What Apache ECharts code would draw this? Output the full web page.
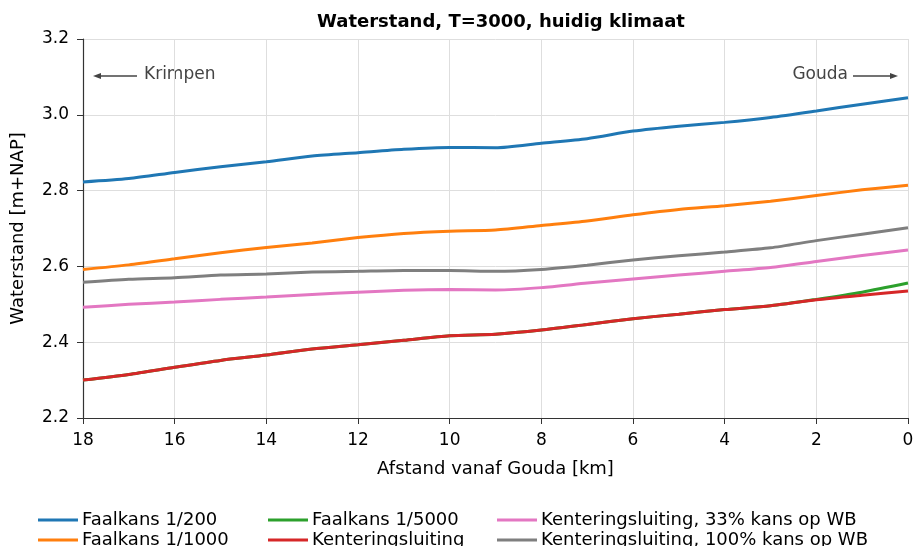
<!DOCTYPE html>
<html><head><meta charset="utf-8">
<script src="https://cdn.jsdelivr.net/npm/echarts@6/dist/echarts.min.js"></script>
<style>html,body{margin:0;padding:0;background:#fff}#c{width:913px;height:546px}</style>
</head><body><div id="c"></div>
<script>
const km = [18,17,16,15,14,13,12,11,10,9,8,7,6,5,4,3,2,1,0];
const faal200  = [2.823,2.832,2.848,2.863,2.876,2.891,2.900,2.909,2.914,2.913,2.925,2.937,2.957,2.970,2.980,2.993,3.010,3.028,3.045];
const faal1000 = [2.592,2.604,2.620,2.636,2.650,2.662,2.676,2.687,2.693,2.696,2.708,2.720,2.736,2.750,2.760,2.772,2.787,2.802,2.814];
const faal5000 = [2.300,2.315,2.334,2.352,2.366,2.382,2.393,2.405,2.417,2.421,2.432,2.447,2.462,2.474,2.486,2.496,2.513,2.532,2.556];
const kenter   = [2.300,2.315,2.334,2.352,2.366,2.382,2.393,2.405,2.417,2.421,2.432,2.447,2.462,2.474,2.486,2.496,2.512,2.524,2.535];
const kenter33 = [2.492,2.500,2.506,2.513,2.519,2.526,2.532,2.537,2.539,2.538,2.544,2.556,2.567,2.577,2.587,2.597,2.613,2.629,2.643];
const kenter100= [2.558,2.566,2.570,2.577,2.580,2.585,2.587,2.589,2.589,2.587,2.592,2.603,2.617,2.628,2.638,2.649,2.668,2.685,2.702];
const names = ['Faalkans 1/200','Faalkans 1/1000','Faalkans 1/5000','Kenteringsluiting','Kenteringsluiting, 33% kans op WB','Kenteringsluiting, 100% kans op WB'];
const colors = ['#1f77b4','#ff7f0e','#2ca02c','#d62728','#e377c2','#7f7f7f'];
const values = [faal200,faal1000,faal5000,kenter,kenter33,kenter100];

const F = 'DejaVu Sans';
const chart = echarts.init(document.getElementById('c'));
const legendPos = [[38,511],[38,531],[268,511],[268,531],[497,511],[497,531]];
const legends = names.map((n,i)=>({orient:'horizontal', itemWidth:40, itemHeight:14, padding:0,
  icon:'path://M0,0 L40,0 L40,3 L0,3 Z', left:legendPos[i][0], top:legendPos[i][1], data:[n],
  textStyle:{fontFamily:F,fontSize:18,color:'#000',padding:[0,0,0,-1]}}));
chart.setOption({
  animation:false,
  color:colors,
  title:{text:'Waterstand, T=3000, huidig klimaat', left:496, textAlign:'center', top:8,
    textStyle:{fontFamily:F,fontSize:18,fontWeight:'bold',color:'#000'}},
  grid:{left:83, right:5, top:39, bottom:128, containLabel:false, outerBoundsMode:'none'},
  xAxis:{type:'value', inverse:true, min:0, max:18, interval:2,
    name:'Afstand vanaf Gouda [km]', nameLocation:'middle', nameGap:42,
    nameTextStyle:{fontFamily:F,fontSize:18,color:'#000'},
    axisLine:{show:true,onZero:false,lineStyle:{color:'#333',width:1.2}},
    axisTick:{show:true,length:6,lineStyle:{color:'#333'}},
    axisLabel:{fontFamily:F,fontSize:17,color:'#000',margin:14},
    splitLine:{show:true,lineStyle:{color:'#dedede',width:1}}},
  yAxis:{type:'value', min:2.2, max:3.2, interval:0.2,
    name:'Waterstand [m+NAP]', nameLocation:'middle', nameGap:56, nameRotate:90,
    nameTextStyle:{fontFamily:F,fontSize:18,color:'#000'},
    axisLine:{show:true,onZero:false,lineStyle:{color:'#333',width:1.2}},
    axisTick:{show:true,length:6,lineStyle:{color:'#333'}},
    axisLabel:{fontFamily:F,fontSize:17,color:'#000',margin:14,formatter:v=>v.toFixed(1)},
    splitLine:{show:true,lineStyle:{color:'#dedede',width:1}}},
  legend: legends,
  series: names.map((n,i)=>({name:n, type:'line', showSymbol:false, smooth:0.25,
    lineStyle:{width:3, color:colors[i]}, itemStyle:{color:colors[i]},
    data: km.map((k,j)=>[k, values[i][j]])})),
  graphic:[
    {type:'line', shape:{x1:137,y1:76,x2:97,y2:76}, style:{stroke:'#444',lineWidth:1.5}},
    {type:'polygon', shape:{points:[[93,76],[101,73],[101,79]]}, style:{fill:'#444'}},
    {type:'text', left:144, top:66, style:{text:'Krimpen', font:'17px "DejaVu Sans"', fill:'#444'}},
    {type:'line', shape:{x1:853,y1:76,x2:894,y2:76}, style:{stroke:'#444',lineWidth:1.5}},
    {type:'polygon', shape:{points:[[898,76],[890,73],[890,79]]}, style:{fill:'#444'}},
    {type:'text', right:65, top:66, style:{text:'Gouda', font:'17px "DejaVu Sans"', fill:'#444'}}
  ]
});
</script></body></html>
